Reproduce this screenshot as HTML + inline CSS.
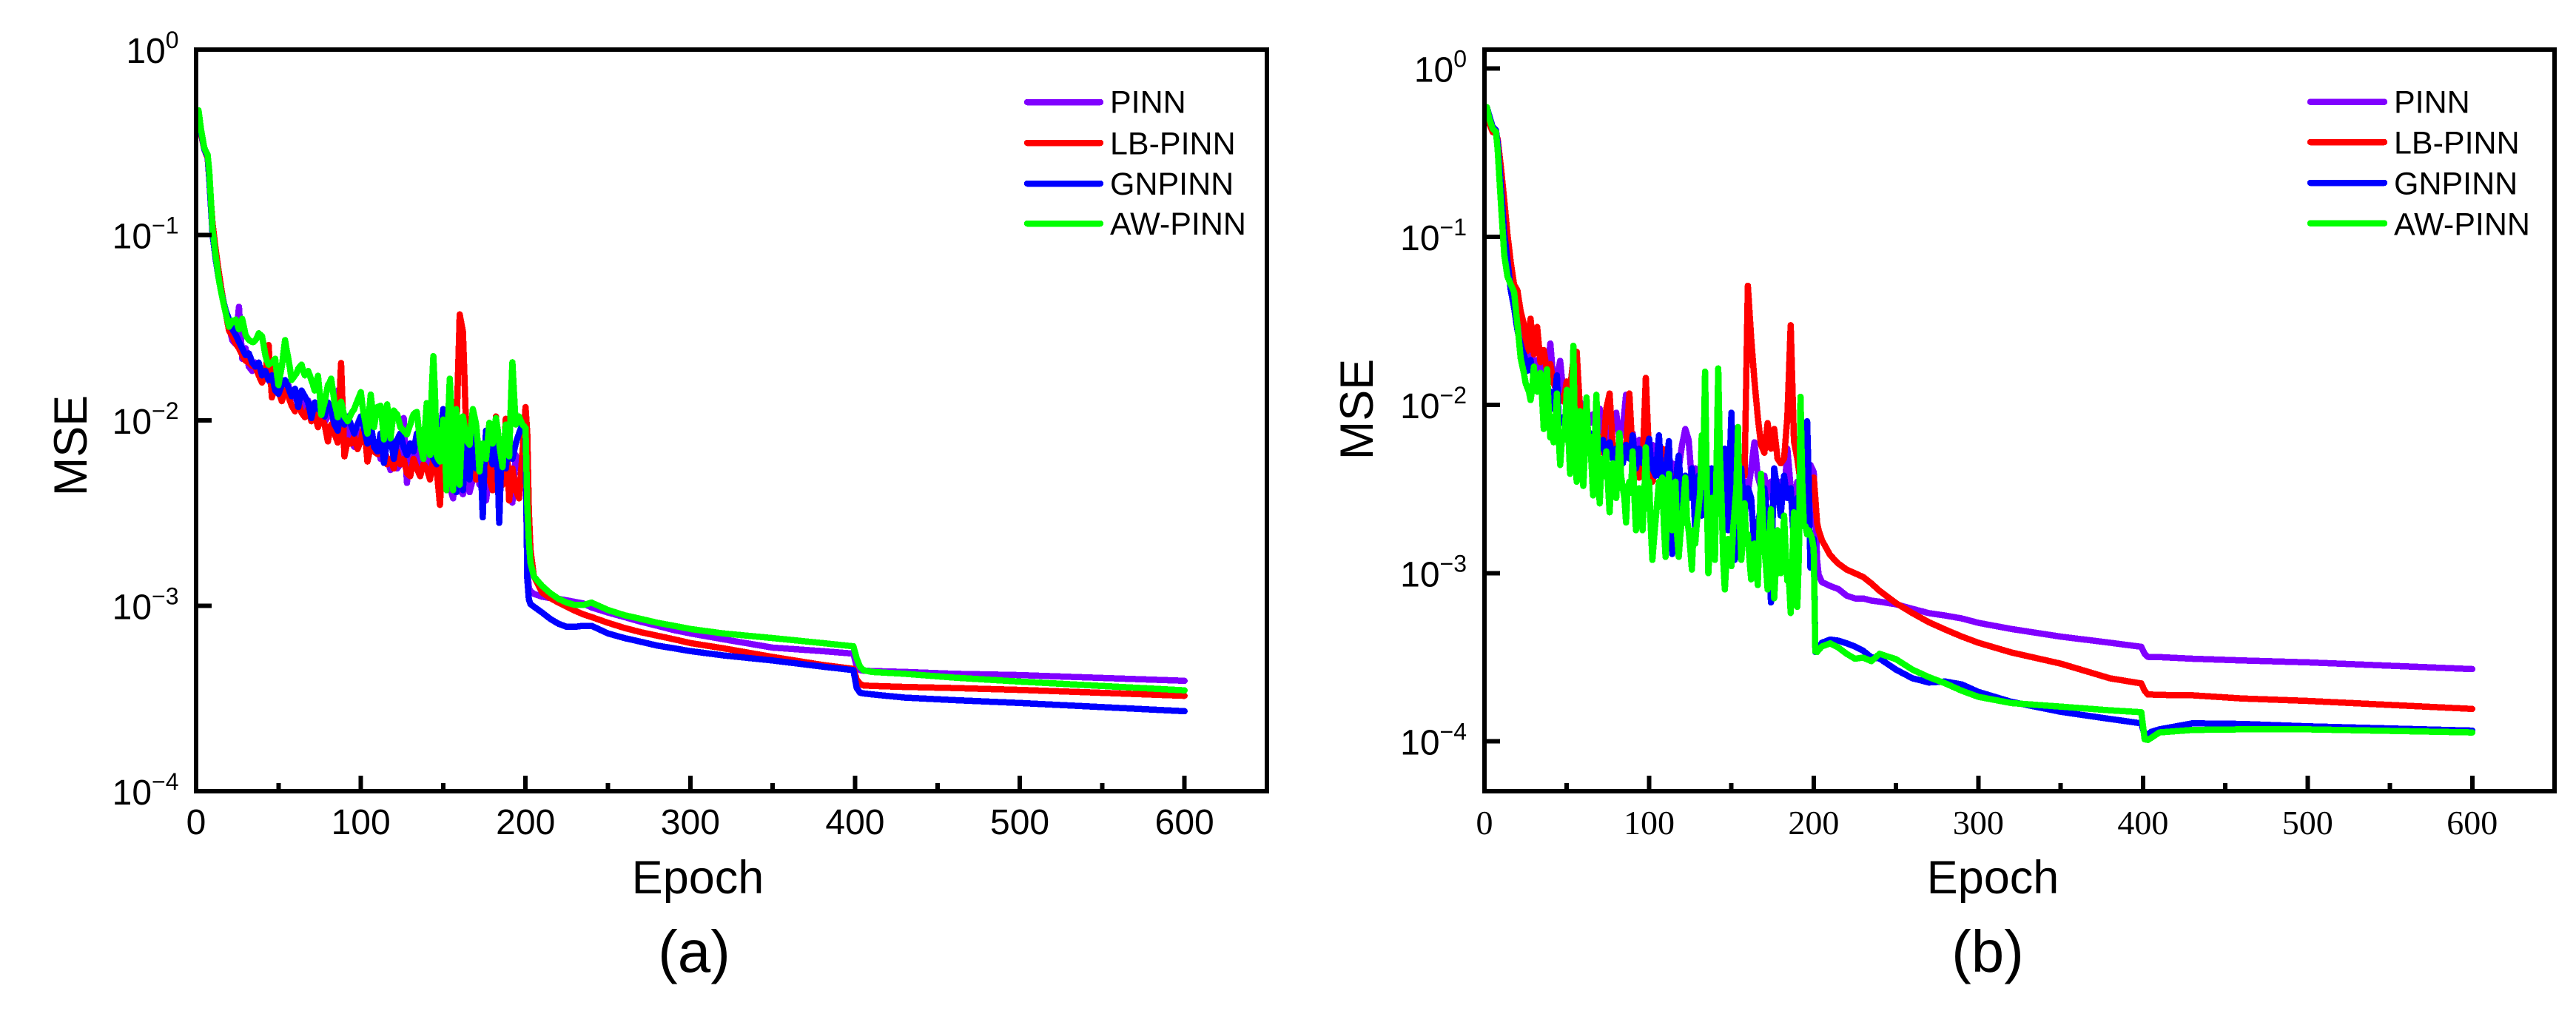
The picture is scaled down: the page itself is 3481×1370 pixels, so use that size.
<!DOCTYPE html>
<html lang="en">
<head>
<meta charset="utf-8">
<title>MSE vs Epoch: PINN variants</title>
<style>
html,body{margin:0;padding:0;background:#fff;}
svg{display:block;}
text{font-family:"Liberation Sans",Arial,sans-serif;fill:#000;}
</style>
</head>
<body>
<svg id="figure" xmlns="http://www.w3.org/2000/svg" width="3481" height="1370" viewBox="0 0 3481 1370">
  <rect x="0" y="0" width="3481" height="1370" fill="#fff"/>
  <g id="panel-a"></g>
  <g id="panel-b"></g>
  <text x="943" y="1207" font-size="63" text-anchor="middle">Epoch</text>
  <text x="2693" y="1207" font-size="63" text-anchor="middle">Epoch</text>
  <text transform="translate(117,602) rotate(-90)" font-size="63" text-anchor="middle">MSE</text>
  <text transform="translate(1855,553) rotate(-90)" font-size="63" text-anchor="middle">MSE</text>
  <text x="938" y="1313" font-size="80" text-anchor="middle">(a)</text>
  <text x="2686" y="1313" font-size="80" text-anchor="middle">(b)</text>
</svg>
<script>
const seriesNames = ['PINN', 'LB-PINN', 'GNPINN', 'AW-PINN'];
const xMajorTicks = [0, 100, 200, 300, 400, 500, 600];
const xMinorTicks = [50, 150, 250, 350, 450, 550];
const yTickExponents = [0, -1, -2, -3, -4];

const epochs = [
1.5,3,5,7,8,10,12,14,16,18,
20,22,24,26,28,30,32,34,36,38,
40,42,44,46,48,50,52,54,56,58,
60,62,64,66,68,70,72,74,76,78,
80,82,84,86,88,90,92,94,96,98,
100,102,104,106,108,110,112,114,116,118,
120,122,124,126,128,130,132,134,136,138,
140,142,144,146,148,150,152,154,156,158,
160,162,164,166,168,170,172,174,176,178,
180,182,184,186,188,190,192,194,196,198,
200,201,202,203,205,210,215,220,225,230,
235,240,250,260,270,280,290,300,320,350,
380,399,401,403,405,410,430,460,500,600];

const oddEpochs = [
21,23,25,27,29,31,33,35,37,39,
41,43,45,47,49,51,53,55,57,59,
61,63,65,67,69,71,73,75,77,79,
81,83,85,87,89,91,93,95,97,99,
101,103,105,107,109,111,113,115,117,119,
121,123,125,127,129,131,133,135,137,139,
141,143,145,147,149,151,153,155,157,159,
161,163,165,167,169,171,173,175,177,179,
181,183,185,187,189,191,193,195,197,199];

const panelAPinn = [
.46,.35,.29,.26,.2,.1,.073,.056,.046,.038,
.032,.027,.0258,.041,.0215,.0245,.0195,.0185,.0205,.0185,
.0175,.0185,.0165,.0155,.0165,.0142,.0155,.0145,.0155,.0132,
.0135,.0122,.0135,.0118,.0128,.011,.0118,.0105,.0115,.0098,
.0105,.0115,.0092,.0145,.0095,.0098,.0088,.0078,.0072,.0088,
.0082,.0085,.0072,.0082,.0068,.0075,.0062,.007,.0062,.0054,
.0062,.0055,.0058,.0103,.0046,.0075,.0062,.0055,.0072,.0058,
.0065,.0055,.0068,.0052,.0062,.0048,.0058,.0044,.0038,.0055,
.0042,.004,.0065,.0041,.0048,.0062,.0045,.0055,.0037,.0052,
.0065,.0048,.0042,.0055,.0075,.0048,.0036,.0065,.0055,.0062,
.006,.0016,.00125,.0012,.00116,.00112,.0011,.00109,.00107,.00105,
.00103,.00098,.00092,.00087,.00082,.00078,.00074,.00071,.00066,.000595,
.00057,.000552,.00047,.00045,.000447,.000445,.00044,.00043,.000423,.000394];

const panelALbPinn = [
.46,.35,.29,.26,.2,.115,.082,.061,.047,.038,
.0305,.0285,.026,.0245,.0225,.021,.0205,.0197,.0195,.0175,
.016,.0175,.0255,.0133,.0155,.0145,.0127,.0145,.0135,.012,
.0112,.0125,.011,.0104,.0115,.0099,.0108,.0092,.0105,.0095,
.0077,.0095,.0085,.0076,.0204,.0064,.0078,.0075,.0082,.007,
.0078,.0095,.006,.0072,.0068,.0066,.0066,.0072,.0058,.0062,
.0055,.0068,.0058,.0062,.0052,.005,.0062,.0055,.005,.0058,
.0055,.0048,.0062,.0055,.0035,.0075,.0065,.0055,.007,.0085,
.0373,.03,.0085,.0065,.0055,.0048,.0072,.0055,.0065,.0048,
.0042,.0105,.0055,.0045,.0102,.0037,.0055,.0042,.0038,.0065,
.0118,.0085,.0032,.002,.00145,.00118,.0011,.00104,.00099,.00094,
.0009,.00087,.00081,.00076,.00072,.00069,.00066,.00063,.00059,.00053,
.00048,.000457,.0004,.00038,.000372,.00037,.000365,.00036,.000352,.000327];

const panelAGnPinn = [
.47,.36,.29,.265,.2,.1,.073,.056,.046,.039,
.035,.031,.029,.0265,.0245,.0225,.023,.0205,.0195,.0205,
.0175,.0185,.0165,.0175,.0145,.0139,.0155,.0165,.015,.0135,
.0148,.0118,.0145,.0135,.0125,.0103,.0125,.0115,.0135,.0105,
.0125,.0115,.0095,.0088,.0115,.0095,.0105,.0095,.0085,.0095,
.0105,.009,.0075,.0095,.0072,.0068,.0085,.0059,.0078,.0082,
.0062,.0078,.0085,.0072,.0065,.0075,.0068,.0085,.0075,.0065,
.0085,.0072,.0062,.0058,.0072,.0115,.0048,.0085,.0042,.0041,
.0095,.0042,.0075,.0048,.0085,.0055,.0075,.003,.0088,.0065,
.0058,.0085,.0028,.0075,.0055,.0078,.0062,.0075,.0085,.0095,
.0085,.0014,.00108,.00102,.00099,.00092,.00085,.0008,.00077,.00077,
.00078,.00078,.00071,.00067,.00064,.00061,.00059,.00057,.00054,.000507,
.00047,.00045,.00036,.00034,.000337,.000333,.00032,.00031,.000299,.00027];

const panelAGnPinnOdd = [
.033,.03,.0278,.0255,.0235,.0228,.0218,.02,.02,.019,
.018,.0175,.017,.016,.0142,.0147,.016,.0158,.0142,.0142,
.0133,.0132,.014,.013,.0114,.0114,.012,.0125,.012,.0115,
.012,.0105,.0092,.0102,.0105,.01,.01,.009,.009,.01,
.0098,.0082,.0085,.0084,.007,.0076,.0072,.0068,.008,.0072,
.007,.0082,.0078,.0068,.007,.0072,.0076,.008,.007,.0075,
.0078,.0067,.006,.0065,.0095,.0082,.0066,.0064,.0042,.0068,
.0068,.0058,.0062,.0066,.007,.0065,.0052,.0059,.0076,.0062,
.0072,.0056,.0052,.0065,.0066,.007,.0068,.008,.009,.009];

const panelAAwPinn = [
.47,.37,.295,.27,.22,.107,.076,.056,.0455,.0378,
.032,.0345,.035,.031,.0353,.029,.0272,.0265,.027,.0295,
.0285,.0225,.02,.0205,.0215,.0155,.0195,.0271,.0215,.0165,
.0175,.019,.02,.0175,.0185,.0165,.0145,.0174,.0107,.0125,
.0155,.0168,.0125,.0104,.0126,.0105,.0099,.0108,.0115,.0128,
.0142,.0105,.0085,.0138,.0092,.0118,.012,.0079,.0122,.008,
.0113,.0108,.0092,.0088,.0084,.0095,.0108,.0111,.0075,.0062,
.0124,.0065,.0222,.0065,.006,.0101,.0042,.0168,.0042,.0115,
.0045,.0105,.0078,.0074,.0115,.0095,.0053,.0075,.0062,.0097,
.0075,.0103,.0075,.0056,.0095,.0064,.0206,.0095,.0105,.0095,
.0091,.0035,.0022,.0017,.00144,.00128,.00117,.00109,.00104,.00101,
.00101,.00104,.00095,.00089,.00085,.00081,.00078,.00075,.00071,.00067,
.00063,.000605,.00052,.00047,.00045,.00044,.00043,.00041,.00039,.00035];

const panelAAwPinnOdd = [
.033,.034,.033,.033,.032,.028,.0268,.0265,.028,.029,
.0255,.021,.0203,.021,.018,.0175,.023,.024,.019,.017,
.018,.0195,.0185,.018,.0175,.0155,.016,.014,.0116,.014,
.016,.0145,.0115,.0115,.0115,.0102,.0103,.0112,.0122,.0135,
.012,.0095,.011,.0115,.0105,.0119,.0098,.01,.0098,.0095,
.011,.01,.009,.0086,.009,.0102,.011,.0092,.0068,.0092,
.009,.014,.014,.0062,.008,.0072,.01,.0105,.008,.0075,
.0075,.0092,.0076,.0095,.0105,.0075,.0064,.0068,.0078,.0085,
.009,.009,.0065,.0075,.008,.012,.014,.01,.01,.0093];

const panelBPinn = [
.59,.5,.44,.42,.36,.2,.105,.072,.05,.04,
.032,.027,.024,.019,.022,.017,.0185,.0155,.017,.0145,
.0232,.0135,.0145,.0183,.0115,.0125,.0105,.011,.0095,.0105,
.0085,.0095,.0078,.0088,.0072,.0095,.0068,.0078,.0062,.0072,
.009,.0062,.0072,.0115,.0058,.0068,.0052,.0062,.0048,.0058,
.0052,.0058,.0045,.0052,.0042,.005,.0038,.0045,.0035,.0042,
.0058,.0072,.0062,.0035,.0042,.0032,.0042,.003,.0042,.0034,
.0042,.0032,.0038,.003,.0036,.0028,.0035,.0032,.0028,.0035,
.003,.0042,.006,.0038,.0032,.0038,.0028,.0035,.0028,.0032,
.0035,.0028,.0055,.0032,.0028,.0035,.0025,.0032,.0035,.0044,
.004,.0025,.0012,.00098,.000885,.00084,.000805,.000735,.000708,.000708,
.000687,.000677,.000653,.000614,.000579,.00056,.000538,.000507,.000466,.00042,
.000386,.000365,.000332,.000318,.000318,.000317,.00031,.000303,.000295,.000269];

const panelBLbPinn = [
.59,.47,.42,.41,.38,.26,.165,.103,.07,.052,
.048,.036,.03,.021,.0326,.02,.0291,.018,.0212,.0158,
.0175,.0135,.012,.011,.0105,.0138,.0125,.0185,.0207,.0095,
.0082,.0072,.0065,.0058,.0055,.0065,.0052,.0095,.0117,.0055,
.0052,.0062,.0048,.0055,.0117,.005,.0045,.0037,.0043,.0145,
.0048,.0035,.0042,.0048,.0055,.0038,.0043,.0032,.0038,.0035,
.0028,.0035,.0032,.0038,.0028,.0035,.0025,.0032,.0028,.003,
.0027,.0032,.0025,.0028,.0032,.0026,.003,.0028,.0042,.0038,
.0512,.025,.014,.0085,.0058,.0052,.0078,.0055,.0072,.0048,
.0045,.0048,.0085,.0298,.0061,.0048,.0035,.0055,.003,.0032,
.0037,.0028,.002,.0018,.00157,.00128,.00114,.00105,.001,.00095,
.00087,.000785,.000663,.000579,.000511,.000462,.00042,.000386,.000338,.00029,
.000237,.000221,.0002,.00019,.00019,.000189,.000188,.00018,.000174,.000156];

const panelBGnPinn = [
.59,.52,.45,.43,.36,.2,.105,.072,.048,.038,
.028,.023,.02,.016,.0185,.015,.0135,.012,.014,.0105,
.012,.0095,.015,.0078,.0085,.0072,.0095,.0065,.0075,.0062,
.0072,.0055,.0068,.0052,.0065,.0055,.0062,.0048,.006,.0048,
.0055,.0052,.0045,.0058,.0048,.0066,.0042,.0055,.0045,.0052,
.0063,.0042,.0038,.0066,.0028,.0038,.0061,.0013,.0032,.005,
.0021,.0038,.0028,.0042,.0018,.0038,.0022,.0035,.002,.0042,
.0022,.0045,.0028,.0055,.0018,.009,.0012,.0035,.0042,.0022,
.0032,.0028,.0014,.0018,.0025,.0032,.0021,.00067,.0042,.0032,
.0022,.0038,.0028,.0032,.0015,.0028,.0022,.0035,.008,.00108,
.0016,.00034,.00034,.00036,.000386,.000403,.000397,.000383,.000367,.000346,
.000316,.000311,.000267,.000237,.000224,.000227,.000218,.000197,.000172,.00015,
.000136,.000128,.000109,.00011,.000114,.000118,.000128,.000127,.000123,.000116];

const panelBGnPinnOdd = [
.025,.021,.018,.017,.016,.014,.0125,.0125,.012,.011,
.0105,.012,.0085,.008,.0078,.008,.007,.007,.0068,.0067,
.0063,.006,.006,.0058,.006,.0058,.0054,.0053,.0054,.0052,
.005,.0048,.005,.005,.0052,.0052,.0048,.0048,.0048,.0056,
.0048,.004,.005,.0045,.0034,.0048,.0032,.0022,.0042,.0035,
.0028,.0032,.0034,.003,.0028,.0028,.0028,.0028,.0032,.003,
.0032,.0036,.004,.0035,.0045,.0028,.0022,.0038,.003,.0027,
.003,.002,.0016,.0022,.0028,.0026,.0016,.002,.0036,.0026,
.003,.0032,.003,.0022,.002,.0025,.0028,.005,.0035,.0014];

const panelBAwPinn = [
.59,.5,.44,.42,.33,.16,.078,.058,.052,.047,
.03,.019,.0154,.0127,.0107,.0169,.012,.0155,.0072,.0163,
.0064,.006,.0117,.0044,.0062,.0123,.0039,.0225,.0035,.0092,
.0033,.0111,.0065,.0029,.0115,.0026,.0048,.0053,.0023,.0045,
.0028,.0068,.0032,.002,.0035,.0053,.0018,.0032,.0018,.0056,
.0035,.0012,.0021,.0035,.0037,.00125,.0039,.0018,.0035,.00125,
.0021,.0037,.0018,.00105,.0015,.0024,.0066,.0158,.001,.0028,
.0012,.0165,.0028,.0008,.0016,.0011,.0024,.0074,.0012,.0026,
.0017,.00092,.0015,.00085,.0039,.0014,.0008,.0024,.00071,.0018,
.001,.0022,.0009,.00058,.0023,.00063,.0112,.0019,.0017,.0017,
.0014,.000343,.00034,.00035,.000367,.000383,.000361,.000332,.00031,.000315,
.0003,.000332,.000308,.000267,.000241,.000221,.0002,.000184,.000169,.000161,
.000153,.000149,.000103,.000102,.000105,.000113,.000117,.000118,.000118,.000113];

const panelBAwPinnOdd = [
.024,.017,.0135,.012,.0125,.0125,.0125,.011,.0105,.0095,
.0085,.0075,.0068,.0062,.0075,.0065,.0055,.0058,.006,.0048,
.0052,.0062,.0045,.0058,.0042,.0044,.0038,.0034,.0035,.0032,
.0042,.0038,.0028,.0032,.003,.003,.0026,.0024,.0027,.0032,
.0019,.0016,.0027,.0025,.0019,.0023,.0021,.0023,.0017,.0017,
.0027,.0021,.0014,.0018,.002,.003,.0045,.0035,.0016,.0018,
.0045,.0052,.0012,.0012,.0014,.0018,.0032,.0022,.0016,.0015,
.0012,.0012,.0012,.0018,.0022,.0011,.0014,.0012,.0011,.0013,
.0014,.0013,.0009,.0012,.0011,.0013,.0035,.0019,.0018,.0016];

const seriesColors = ['#8000ff', '#ff0000', '#0000ff', '#00ff00'];
const SVG_NS = 'http://www.w3.org/2000/svg';

function make(parent, tag, attrs) {
  const el = document.createElementNS(SVG_NS, tag);
  Object.keys(attrs).forEach(function (k) { el.setAttribute(k, attrs[k]); });
  parent.appendChild(el);
  return el;
}

function mergeSamples(values, oddValues) {
  const samples = values.map(function (v, j) { return [epochs[j], v]; });
  if (oddValues) {
    oddValues.forEach(function (v, j) { samples.push([oddEpochs[j], v]); });
    samples.sort(function (a, b) { return a[0] - b[0]; });
  }
  return samples;
}

function drawPanel(cfg) {
  const root = document.getElementById(cfg.id);
  const xScale = function (e) { return cfg.left + e * (cfg.right - cfg.left) / 650; };
  const yScale = function (v) { return cfg.y0 - Math.log10(v) * cfg.decade; };

  cfg.series.forEach(function (values, i) {
    const pts = mergeSamples(values, cfg.oddSeries[i]).map(function (s) {
      return xScale(s[0]).toFixed(1) + ',' + yScale(s[1]).toFixed(1);
    }).join(' ');
    const line = make(root, 'polyline', {
      points: pts, fill: 'none', stroke: seriesColors[i], 'stroke-width': 8.5,
      'stroke-linejoin': 'round', 'stroke-linecap': 'round', 'shape-rendering': 'crispEdges'
    });
    
    
  });

  const frame = make(root, 'rect', {
    x: cfg.left, y: cfg.top, width: cfg.right - cfg.left, height: cfg.bottom - cfg.top,
    fill: 'none', stroke: '#000', 'stroke-width': 6, 'shape-rendering': 'crispEdges'
  });
  
  

  xMajorTicks.forEach(function (t) {
    const x = xScale(t);
    const tick = make(root, 'line', {
      x1: x, x2: x, y1: cfg.bottom, y2: cfg.bottom - 21, stroke: '#000', 'stroke-width': 6,
      'shape-rendering': 'crispEdges'
    });
    
    
    const label = make(root, 'text', {
      x: x, y: 1127, 'text-anchor': 'middle', 'font-size': cfg.xFontSize,
      style: 'font-family:' + cfg.xFont
    });
    label.textContent = String(t);
    
    
  });

  xMinorTicks.forEach(function (t) {
    const x = xScale(t);
    const tick = make(root, 'line', {
      x1: x, x2: x, y1: cfg.bottom, y2: cfg.bottom - 11, stroke: '#000', 'stroke-width': 6,
      'shape-rendering': 'crispEdges'
    });
    
    
  });

  yTickExponents.forEach(function (exp) {
    const y = yScale(Math.pow(10, exp));
    const tick = make(root, 'line', {
      x1: cfg.left, x2: cfg.left + 21, y1: y, y2: y, stroke: '#000', 'stroke-width': 6,
      'shape-rendering': 'crispEdges'
    });
    
    
    const label = make(root, 'text', {
      x: cfg.yLabelRight, y: y + 18, 'text-anchor': 'end', 'font-size': 48
    });
    
    
    label.appendChild(document.createTextNode('10'));
    const sup = make(label, 'tspan', { dy: -20, 'font-size': 32 });
    sup.textContent = exp < 0 ? '\u2212' + Math.abs(exp) : String(exp);
  });

  seriesNames.forEach(function (name, i) {
    const swatch = make(root, 'line', {
      x1: cfg.legendX1, x2: cfg.legendX2, y1: cfg.legendLineY[i], y2: cfg.legendLineY[i],
      stroke: seriesColors[i], 'stroke-width': 8.5, 'stroke-linecap': 'round',
      'shape-rendering': 'crispEdges'
    });
    
    
    const label = make(root, 'text', {
      x: cfg.legendTextX, y: cfg.legendTextY[i], 'font-size': 43
    });
    label.textContent = name;
    
    
  });
}

drawPanel({
  id: 'panel-a', left: 265, right: 1712, top: 67, bottom: 1069, y0: 67, decade: 250.5,
  series: [panelAPinn, panelALbPinn, panelAGnPinn, panelAAwPinn],
  oddSeries: [null, null, panelAGnPinnOdd, panelAAwPinnOdd],
  yLabelRight: 241.5, xFontSize: 48, xFont: '"Liberation Sans",Arial,sans-serif',
  legendX1: 1388, legendX2: 1487, legendLineY: [138, 193, 248, 302],
  legendTextX: 1500, legendTextY: [152.7, 208.7, 263, 317]
});

drawPanel({
  id: 'panel-b', left: 2006, right: 3452, top: 67, bottom: 1069, y0: 92.7, decade: 227.25,
  series: [panelBPinn, panelBLbPinn, panelBGnPinn, panelBAwPinn],
  oddSeries: [null, null, panelBGnPinnOdd, panelBAwPinnOdd],
  yLabelRight: 1982, xFontSize: 46, xFont: '"Liberation Serif","Times New Roman",serif',
  legendX1: 3122, legendX2: 3222, legendLineY: [137.7, 192, 247, 301.7],
  legendTextX: 3235, legendTextY: [152.7, 207.7, 262.7, 317.7]
});
</script>
</body>
</html>
